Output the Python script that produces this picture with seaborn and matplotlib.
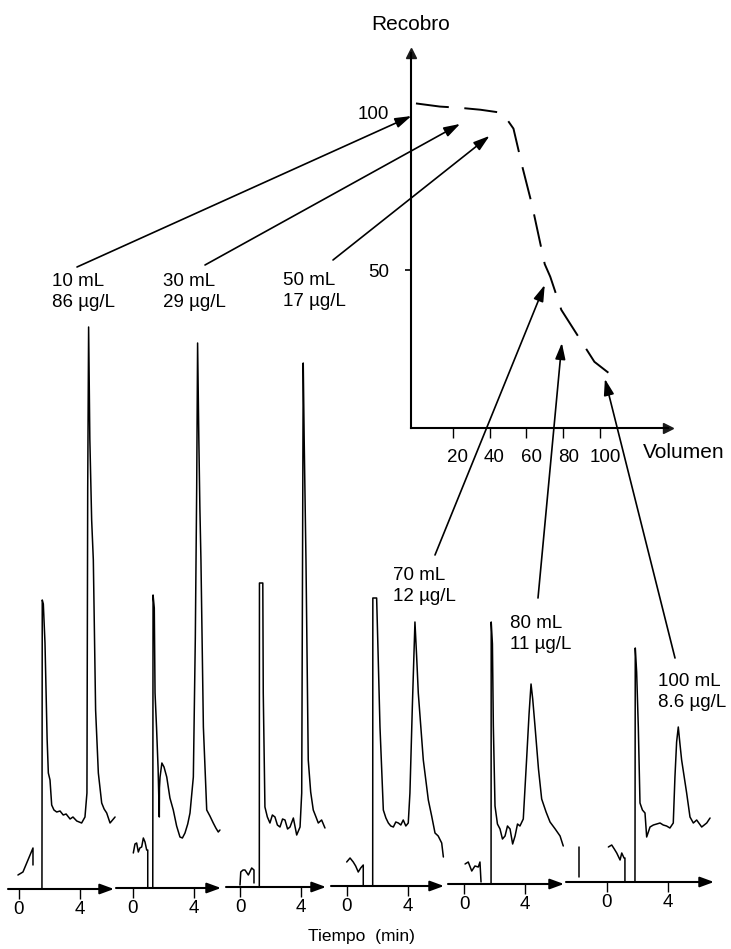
import matplotlib
matplotlib.use("Agg")
import matplotlib.pyplot as plt
import seaborn as sns
from matplotlib.transforms import ScaledTranslation

# ---------------- data ----------------
# Recovery curve (inset): volume (mL) vs recovery (%)
volume = [0, 13, 24, 35, 47, 53, 58, 63, 70, 73, 79, 85, 97, 108]
recovery = [103, 102, 101.6, 101, 100, 95, 82.5, 71, 52, 48, 37.5, 32, 21, 16]
vol_ticks = [20, 40, 60, 80, 100]
rec_ticks = [50, 100]

# Sample labels and arrow targets on the recovery curve
sample_labels = ["10 mL\n86 µg/L", "30 mL\n29 µg/L", "50 mL\n17 µg/L",
                 "70 mL\n12 µg/L", "80 mL\n11 µg/L", "100 mL\n8.6 µg/L"]
arrow_vol = [-2.5, 24, 40, 70, 79.3, 102.7]
arrow_rec = [99, 96.5, 92.7, 45.4, 27, 15.6]

# Chromatograms: time (min) and signal (a.u.)
c1_pre_t = [-0.07, 0.26, 0.59, 0.92, 0.92]
c1_pre_s = [14, 17, 29, 41, 24]
c1_t = [1.51, 1.53, 1.60, 1.71, 1.85, 1.93, 2.04, 2.15, 2.30, 2.48, 2.70, 2.91, 3.10, 3.36,
        3.55, 3.80, 4.12, 4.34, 4.47, 4.52, 4.58, 4.66, 4.78, 4.89, 5.04, 5.22, 5.44, 5.60,
        5.77, 5.99, 6.32]
c1_s = [0, 289, 285, 246, 150, 116, 109, 84, 79, 77, 78, 74, 75, 70, 72, 68, 66, 72, 96,
        400, 562, 450, 369, 329, 179, 116, 86, 80, 76, 66, 72]

c2_pre_t = [0.02, 0.13, 0.24, 0.35, 0.45, 0.57, 0.68, 0.79, 0.90, 0.97, 0.97]
c2_pre_s = [35, 44, 45, 36, 40, 41, 50, 46, 38, 38, 0]
c2_t = [1.30, 1.32, 1.40, 1.45, 1.55, 1.65, 1.73, 1.74, 1.78, 1.90, 2.04, 2.22, 2.43, 2.65,
        2.87, 3.09, 3.25, 3.42, 3.60, 3.75, 3.97, 4.10, 4.19, 4.25, 4.33, 4.40, 4.47, 4.63,
        4.85, 5.06, 5.28, 5.45, 5.61, 5.72]
c2_s = [0, 293, 280, 195, 160, 120, 71, 100, 111, 125, 121, 111, 90, 78, 62, 51, 50, 55,
        64, 75, 111, 250, 400, 545, 450, 380, 328, 161, 78, 72, 65, 60, 56, 58]

c3_pre_t = [0.0, 0.05, 0.20, 0.33, 0.55, 0.77, 0.92, 0.92]
c3_pre_s = [2, 15, 17, 17, 12, 19, 17, 4]
c3_t = [1.27, 1.28, 1.50, 1.53, 1.64, 1.80, 1.97, 2.13, 2.30, 2.46, 2.63, 2.80, 2.96, 3.13,
        3.29, 3.51, 3.73, 3.95, 4.06, 4.12, 4.16, 4.22, 4.34, 4.49, 4.65, 4.82, 5.00, 5.15,
        5.37, 5.59]
c3_s = [0, 304, 304, 194, 80, 70, 64, 72, 70, 62, 60, 68, 67, 58, 60, 69, 52, 60, 94, 350,
        524, 450, 327, 127, 95, 77, 70, 64, 67, 59]

c4_pre_t = [-0.02, 0.20, 0.41, 0.57, 0.74, 0.90, 1.07, 1.07]
c4_pre_s = [24, 28, 24, 20, 14, 18, 21, 0]
c4_t = [1.69, 1.70, 1.95, 2.05, 2.17, 2.39, 2.56, 2.72, 2.88, 3.05, 3.21, 3.38, 3.54, 3.70,
        3.87, 4.03, 4.14, 4.30, 4.47, 4.58, 4.69, 5.02, 5.35, 5.57, 5.79, 6.00, 6.23, 6.34]
c4_s = [0, 288, 288, 230, 159, 76, 68, 63, 60, 59, 64, 63, 61, 66, 60, 63, 93, 180, 264,
        230, 193, 126, 86, 70, 53, 50, 43, 29]

c5_pre_t = [0.07, 0.28, 0.51, 0.72, 0.94, 1.05, 1.12]
c5_pre_s = [20, 22, 13, 18, 17, 22, 2]
c5_t = [1.78, 1.79, 1.87, 1.93, 2.04, 2.20, 2.37, 2.53, 2.70, 2.86, 3.03, 3.20, 3.36, 3.52,
        3.68, 3.90, 4.12, 4.28, 4.41, 4.52, 4.67, 4.90, 5.11, 5.40, 5.66, 6.00, 6.32, 6.53]
c5_s = [0, 262, 240, 158, 78, 60, 55, 45, 48, 58, 55, 40, 48, 60, 58, 65, 125, 170, 200,
        185, 158, 115, 85, 72, 62, 55, 48, 38]

c6_mark_t = [-1.84, -1.84]
c6_mark_s = [5, 35]
c6_pre_t = [0.09, 0.31, 0.48, 0.64, 0.86, 0.97, 1.12, 1.18, 1.18]
c6_pre_s = [35, 37, 33, 29, 22, 29, 24, 24, 0]
c6_t = [1.84, 1.86, 1.95, 2.06, 2.17, 2.33, 2.50, 2.61, 2.83, 3.05, 3.27, 3.49, 3.70, 3.92,
        4.14, 4.36, 4.47, 4.58, 4.69, 4.80, 4.91, 5.24, 5.46, 5.68, 5.90, 6.23, 6.56, 6.78]
c6_s = [0, 234, 210, 155, 79, 72, 69, 45, 55, 57, 58, 59, 57, 56, 54, 59, 105, 140, 155,
        138, 122, 89, 65, 59, 62, 55, 59, 64]

time_ticks = [0, 4]

chromatograms = [
    [(c1_pre_t, c1_pre_s), (c1_t, c1_s)],
    [(c2_pre_t, c2_pre_s), (c2_t, c2_s)],
    [(c3_pre_t, c3_pre_s), (c3_t, c3_s)],
    [(c4_pre_t, c4_pre_s), (c4_t, c4_s)],
    [(c5_pre_t, c5_pre_s), (c5_t, c5_s)],
    [(c6_mark_t, c6_mark_s), (c6_pre_t, c6_pre_s), (c6_t, c6_s)],
]

# ---------------- style ----------------
sns.set_theme(style="white")
plt.rcParams["font.family"] = ["Liberation Sans", "DejaVu Sans"]
plt.rcParams.update({
    "text.color": "black", "axes.labelcolor": "black",
    "xtick.color": "black", "ytick.color": "black",
    "axes.facecolor": "none", "figure.facecolor": "white",
})

W, H = 731, 949
fig = plt.figure(figsize=(W / 100, H / 100), dpi=100)


def fbox(left, right, top, bottom):
    return [left / W, 1 - bottom / H, (right - left) / W, (bottom - top) / H]


# ---------------- chromatogram panels ----------------
PX_PER_MIN = 15.2
panel_zero_px = [19, 133, 240, 347, 464, 607]
panel_left_px = [8, 116, 226, 331, 448, 566]
panel_right_px = [114, 221, 326, 444, 564, 714]
panel_base_px = [889, 888, 887, 886, 884, 882]
SIG_RANGE = 600

for segs, z, L, R, base in zip(chromatograms, panel_zero_px, panel_left_px,
                               panel_right_px, panel_base_px):
    ax = fig.add_axes(fbox(L, R, base - SIG_RANGE, base))
    for t, s in segs:
        sns.lineplot(x=t, y=s, sort=False, estimator=None, ax=ax, color="black",
                     lw=1.1, clip_on=False)
    ax.set_xlim((L - z) / PX_PER_MIN, (R - z) / PX_PER_MIN)
    ax.set_ylim(0, SIG_RANGE)
    for sp in ax.spines.values():
        sp.set_visible(False)
    ax.set_yticks([])
    ax.set_xticks(time_ticks)
    ax.set_xticklabels([str(v) for v in time_ticks])
    ax.tick_params(axis="x", bottom=True, direction="out", length=7, width=1,
                   pad=1.5, labelsize=13.5)
    ax.set_xlabel("")
    ax.set_ylabel("")
    ax.annotate("", xy=(1, 0), xytext=(0, 0), xycoords="axes fraction",
                arrowprops=dict(arrowstyle="-|>,head_length=0.6,head_width=0.22",
                                color="black", lw=1.5, mutation_scale=14,
                                shrinkA=0, shrinkB=0), annotation_clip=False)

fig.text(361 / W, 1 - 937 / H, "Tiempo  (min)", ha="center", va="center", fontsize=12.5)

# ---------------- recovery inset ----------------
axr = fig.add_axes(fbox(411, 668, 53, 428))
sns.lineplot(x=volume, y=recovery, sort=False, estimator=None, ax=axr, color="black",
             lw=1.4, linestyle=(0, (17, 8)))
axr.set_xlim(-2.7, 137)
axr.set_ylim(0, 119)
axr.spines["top"].set_visible(False)
axr.spines["right"].set_visible(False)
for k in ("left", "bottom"):
    axr.spines[k].set_color("black")
    axr.spines[k].set_linewidth(1.5)
axr.plot(1, 0, ">k", transform=axr.transAxes, clip_on=False, ms=7)
axr.plot(0, 1, "^k", transform=axr.transAxes, clip_on=False, ms=7)

axr.set_xticks(vol_ticks)
axr.set_xticklabels([str(v) for v in vol_ticks])
axr.set_yticks(rec_ticks)
axr.set_yticklabels([str(v) for v in rec_ticks])
axr.tick_params(axis="x", bottom=True, direction="out", length=7, width=1,
                pad=8, labelsize=13.5)
axr.tick_params(axis="y", left=True, direction="out", length=4.5, width=1.2,
                pad=11, labelsize=13.5)
axr.yaxis.get_major_ticks()[1].tick1line.set_visible(False)
off = ScaledTranslation(5 / 100, 0, fig.dpi_scale_trans)
for lab in axr.get_xticklabels():
    lab.set_transform(lab.get_transform() + off)
axr.set_xlabel("")
axr.set_ylabel("")

fig.text(411 / W, 1 - 24 / H, "Recobro", ha="center", va="center", fontsize=15)
fig.text(643 / W, 1 - 453 / H, "Volumen", ha="left", va="center", fontsize=15)

# ---------------- labels and arrows ----------------
label_px = [(52, 292), (163, 292), (283, 291), (393, 586), (510, 634), (658, 692)]
arrow_from_px = [(77, 267), (205, 265), (333, 260), (435, 555), (538, 598), (675, 658)]

for txt, (lx, ly), (ax_, ay_), v, r in zip(sample_labels, label_px, arrow_from_px,
                                           arrow_vol, arrow_rec):
    fig.text(lx / W, 1 - ly / H, txt, ha="left", va="center", fontsize=13.5,
             linespacing=1.25)
    axr.annotate("", xy=(v, r), xycoords="data", xytext=(ax_, H - ay_),
                 textcoords="figure pixels",
                 arrowprops=dict(arrowstyle="-|>,head_length=0.7,head_width=0.22",
                                 color="black", lw=1.2, mutation_scale=14,
                                 shrinkA=0, shrinkB=0),
                 annotation_clip=False)

fig.savefig("out.png", dpi=100)
